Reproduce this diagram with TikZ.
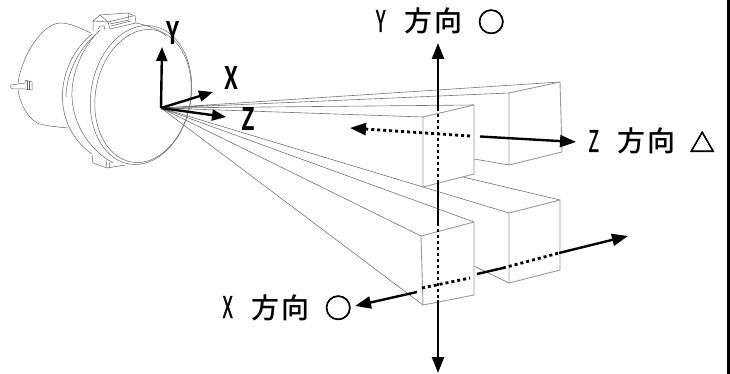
\documentclass[tikz,border=0pt]{standalone}
\usepackage{fontspec}
\usepackage{graphicx}
\usetikzlibrary{arrows.meta}
\newfontfamily\cjkfont{Noto Sans CJK JP Medium}
\newfontfamily\cjkbold{Noto Sans CJK JP Bold}
\newfontfamily\cjkheavy[FakeBold=2.5]{Noto Sans CJK JP}
\newfontfamily\cjklatin[FakeBold=1.5]{Noto Sans CJK JP}
\newcommand{\latn}[1]{\makebox[15pt][c]{\cjklatin\fontsize{30}{30}\selectfont\scalebox{0.6}[1]{#1}}}
\newcommand{\cell}[1]{\makebox[30pt][c]{\cjkfont\fontsize{28}{30}\selectfont #1}}
\newcommand{\symb}[2]{\makebox[30pt][c]{\cjkheavy\fontsize{#1}{30}\selectfont #2}}
\newcommand{\lbl}[4]{\latn{#1}\hspace{15pt}\cell{方}\cell{向}\hspace{#4}\symb{#2}{#3}}
\tikzset{
  lens/.style={draw=black!60,line width=0.5pt,line join=round},
  ray/.style={draw=black!55,line width=0.6pt},
  face/.style={draw=black!40,line width=0.9pt,fill=white,line join=round},
  axis/.style={draw=black,line width=2.4pt},
  dots/.style={draw=black,line width=2.8pt,dash pattern=on 3pt off 3pt},
  tip/.style={-{Triangle[length=16pt,width=12pt]}},
  small/.style={draw=black,line width=2.4pt,-{Triangle[length=14pt,width=11pt]}},
  axlbl/.style={inner sep=0pt,anchor=center},
  dirlbl/.style={inner sep=0pt,anchor=base west},
}
\begin{document}
\begin{tikzpicture}[x=1pt,y=-1pt]
\useasboundingbox (0,0) rectangle (730,374);
\fill[black] (727,0) rectangle (730,374);
% coordinates
\coordinate (O) at (161,108);
\coordinate (ua) at (509,93); \coordinate (ub) at (560,82); \coordinate (uc) at (562,152); \coordinate (ud) at (509,165);
\coordinate (fa) at (423,117); \coordinate (fb) at (474,105); \coordinate (fc) at (474,174); \coordinate (fd) at (423,187);
\coordinate (la) at (509,213); \coordinate (lb) at (560,200); \coordinate (lc) at (560,270); \coordinate (ld) at (509,283);
\coordinate (ga) at (421,236); \coordinate (gb) at (474,222); \coordinate (gc) at (474,295); \coordinate (gd) at (423,305);
\coordinate (e1) at (474,159); \coordinate (e2) at (463,177); \coordinate (e3) at (474,266);
% lens body
\draw[lens] (91,33) .. controls (80,28) and (70,23) .. (60,23) .. controls (42,24) and (22,55) .. (18,83);
\draw[lens] (18,90) .. controls (20,103) and (27,117) .. (37,123) .. controls (45,126) and (58,127) .. (68,128);
\draw[lens] (11,85) -- (25,83) -- (25,80) -- (32,82) -- (32,90) -- (25,89) -- (13,89) .. controls (10,88) and (10,86) .. (11,85);
\draw[lens] (27,81) -- (27,90) (29,81) -- (29,90);
% ring
\draw[lens] (92,34) .. controls (70,52) and (60,80) .. (63,105) .. controls (65,125) and (76,143) .. (92,154);
\draw[lens] (66,97) .. controls (66,75) and (78,50) .. (95,35);
\draw[lens] (100,30) .. controls (84,45) and (71,72) .. (72,97) .. controls (73,125) and (90,150) .. (113,163);
% tabs
\draw[lens] (93,31) -- (93,21) -- (100,15) -- (128,13) -- (135,16) -- (136,23) -- (110,29) -- (108,22) -- (93,21);
\draw[lens] (100,15) -- (108,22) -- (133,16);
\draw[lens] (110,24) -- (129,20) (111,26) -- (131,21) (128,13) -- (129,20);
\draw[lens] (98,29) -- (100,26) -- (104,26) -- (105,30);
\draw[lens] (92,155) -- (93,163) -- (107,168) -- (125,165);
\draw[lens] (106,160) -- (107,168) (109,162) -- (110,168);
% lens front
\draw[lens] (136,23) .. controls (150,26) and (160,30) .. (166,36);
\draw[lens,rotate around={-10:(141,95)}] (141,95) ellipse [x radius=50pt,y radius=70pt];
\draw[lens,rotate around={-10:(143,96)}] (143,96) ellipse [x radius=47.5pt,y radius=67pt];
% back rays and faces
\draw[ray] (O) -- (ua) (O) -- (ub);
\draw[ray] (e1) -- (ud);
\draw[ray] (O) -- (fd) -- (la);
\draw[ray] (e2) -- (lb);
\draw[ray] (e3) -- (ld);
\path[face] (ua) -- (ub) -- (uc) -- (ud) -- cycle;
\path[face] (la) -- (lb) -- (lc) -- (ld) -- cycle;
% front rays and faces
\draw[ray] (O) -- (fa) (O) -- (fb);
\draw[ray] (O) -- (ga) (O) -- (gb) (O) -- (gd);
\path[face] (fa) -- (fb) -- (fc) -- (fd) -- cycle;
\path[face] (ga) -- (gb) -- (gc) -- (gd) -- cycle;
% small axes
\coordinate (sy) at (162,47); \coordinate (sx) at (213,92); \coordinate (sz) at (226,117);
\draw[small] (O) -- (sy);
\draw[small] (O) -- (sx);
\draw[small] (O) -- (sz);
\node[axlbl] (ly) at (173,33) {\cjkbold\fontsize{31}{31}\selectfont\scalebox{0.72}[1]{Y}};
\node[axlbl] (lx) at (231,78) {\cjkbold\fontsize{31}{31}\selectfont\scalebox{0.72}[1]{X}};
\node[axlbl] (lz) at (248,119) {\cjkbold\fontsize{31}{31}\selectfont\scalebox{0.72}[1]{Z}};
% Y direction
\coordinate (y0) at (438,43); \coordinate (y1) at (438,108); \coordinate (y2) at (438,180);
\coordinate (y3) at (438,223); \coordinate (y4) at (438,300); \coordinate (y5) at (438,373);
\draw[axis,tip] (y1) -- (y0);
\draw[dots] (y1) -- (y2);
\draw[axis] (y2) -- (y3);
\draw[dots] (y3) -- (y4);
\draw[axis,tip] (y4) -- (y5);
% Z direction
\coordinate (z0) at (350,128); \coordinate (z1) at (470,136); \coordinate (z2) at (480,136.5); \coordinate (z3) at (576,142);
\draw[dots,tip] (z1) -- (z0);
\draw[axis,tip] (z2) -- (z3);
% X direction
\coordinate (x0) at (355,306); \coordinate (x1) at (417,292); \coordinate (x2) at (422,288); \coordinate (x3) at (470,278);
\coordinate (x4) at (477,274); \coordinate (x5) at (503,268); \coordinate (x6) at (559,253); \coordinate (x7) at (628,236);
\draw[axis,tip] (x1) -- (x0);
\draw[dots] (x2) -- (x3);
\draw[axis] (x4) -- (x5);
\draw[dots] (x5) -- (x6);
\draw[axis,tip] (x6) -- (x7);
% labels
\node[dirlbl] (ty) at (373,32) {\lbl{Y}{27}{○}{13pt}};
\node[dirlbl] (tz) at (586,152) {\lbl{Z}{25}{△}{11pt}};
\node[dirlbl] (tx) at (220,318) {\lbl{X}{27}{○}{13pt}};
\end{tikzpicture}
\end{document}
